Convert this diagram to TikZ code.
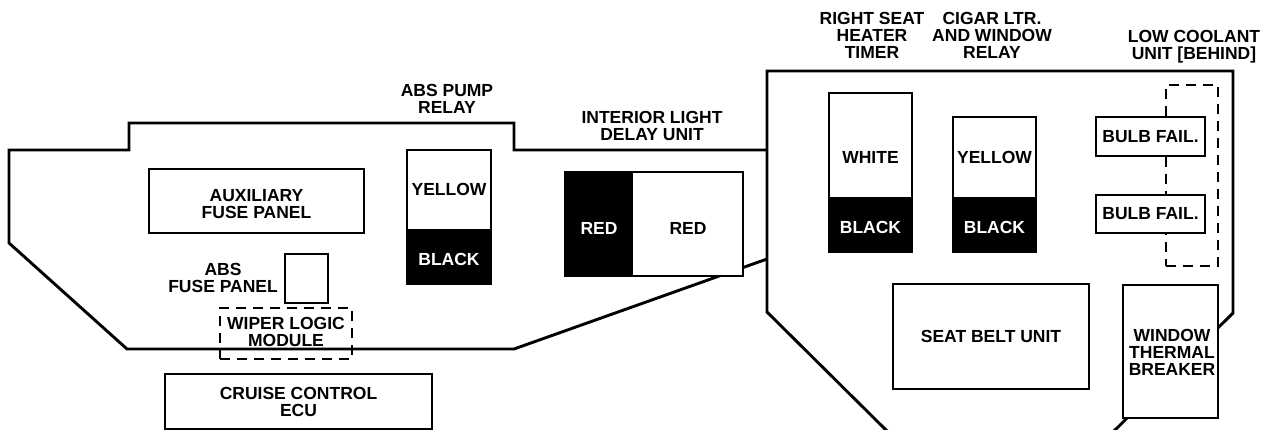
\documentclass[tikz,border=0pt]{standalone}
\usepackage{fontspec}
\setmainfont{Liberation Sans}
\newcommand{\lblfont}{\fontsize{17.5}{17}\selectfont\bfseries}
\begin{document}
\begin{tikzpicture}[x=1pt,y=-1pt,line join=miter,
  outline/.style={line width=2.9pt},
  box/.style={draw,line width=2.9pt,fill=white,inner sep=0pt,rectangle,font=\lblfont,align=center},
  dbox/.style={draw,line width=2.9pt,dash pattern=on 10pt off 7pt,inner sep=0pt,rectangle},
  blk/.style={fill=black},
  txt/.style={inner sep=0pt,align=center,font=\lblfont},
  wtxt/.style={txt,text=white}]
\useasboundingbox (0,0) rectangle (1273,430);
% panels
\draw[outline] (767,150) -- (514,150) -- (514,123) -- (129,123) -- (129,150) -- (9,150)
  -- (9,243) -- (127,349) -- (514,349) -- (767,259);
\draw[outline] (888,432) -- (767,312) -- (767,71) -- (1233,71) -- (1233,313) -- (1113,432);
% left panel content
\node[box,minimum width=215pt,minimum height=64pt] (aux) at (256.5,201) {};
\node[txt,anchor=north] (auxt) at (256.5,189.5) {AUXILIARY\\FUSE PANEL};
\node[box,minimum width=84pt,minimum height=134pt] (absrelay) at (449,217) {};
\fill[blk] (407,229) rectangle (491,284);
\node[txt] (absy) at (449,189) {YELLOW};
\node[wtxt] (absb) at (449,259) {BLACK};
\node[txt,anchor=north] (absrelayt) at (447,84.5) {ABS PUMP\\RELAY};
\node[box,minimum width=43pt,minimum height=49pt] (absfuse) at (306.5,278.5) {};
\node[txt,anchor=north east] (absfuset) at (278,263.5) {ABS\\FUSE PANEL};
\node[dbox,minimum width=132pt,minimum height=51pt] (wiper) at (286,333.5) {};
\node[txt,anchor=north] (wipert) at (286,317.5) {WIPER LOGIC\\MODULE};
\node[box,minimum width=267pt,minimum height=55pt] (cruise) at (298.5,401.5) {};
\node[txt,anchor=north] (cruiset) at (298.5,387.5) {CRUISE CONTROL\\ECU};
% interior light
\node[box,minimum width=178pt,minimum height=104pt] (interior) at (654,224) {};
\fill[blk] (565,172) rectangle (633,276);
\node[wtxt] (red1) at (599,228) {RED};
\node[txt] (red2) at (688,228) {RED};
\node[txt,anchor=north] (interiort) at (652,111.5) {INTERIOR LIGHT\\DELAY UNIT};
% right panel content
\node[box,minimum width=83pt,minimum height=159pt] (seatheat) at (870.5,172.5) {};
\fill[blk] (829,197) rectangle (912,252);
\node[txt] (white) at (870.5,157) {WHITE};
\node[wtxt] (black2) at (870.5,227) {BLACK};
\node[txt,anchor=north] (seatheatt) at (872,12.5) {RIGHT SEAT\\HEATER\\TIMER};
\node[box,minimum width=83pt,minimum height=135pt] (cigar) at (994.5,184.5) {};
\fill[blk] (953,197) rectangle (1036,252);
\node[txt] (yellow2) at (994.5,157) {YELLOW};
\node[wtxt] (black3) at (994.5,227) {BLACK};
\node[txt,anchor=north] (cigart) at (992,12.5) {CIGAR LTR.\\AND WINDOW\\RELAY};
\node[dbox,minimum width=52pt,minimum height=181pt] (coolant) at (1192,175.5) {};
\node[txt,anchor=north] (coolantt) at (1194,30.5) {LOW COOLANT\\UNIT [BEHIND]};
\node[box,minimum width=109pt,minimum height=39pt] (bulb1) at (1150.5,136.5) {BULB FAIL.};
\node[box,minimum width=109pt,minimum height=38pt] (bulb2) at (1150.5,214) {BULB FAIL.};
\node[box,minimum width=196pt,minimum height=105pt] (seatbelt) at (991,336.5) {SEAT BELT UNIT};
\node[box,minimum width=95pt,minimum height=133pt] (breaker) at (1170.5,351.5) {};
\node[txt,anchor=north] (breakert) at (1172,329.5) {WINDOW\\THERMAL\\BREAKER};
\end{tikzpicture}
\end{document}
